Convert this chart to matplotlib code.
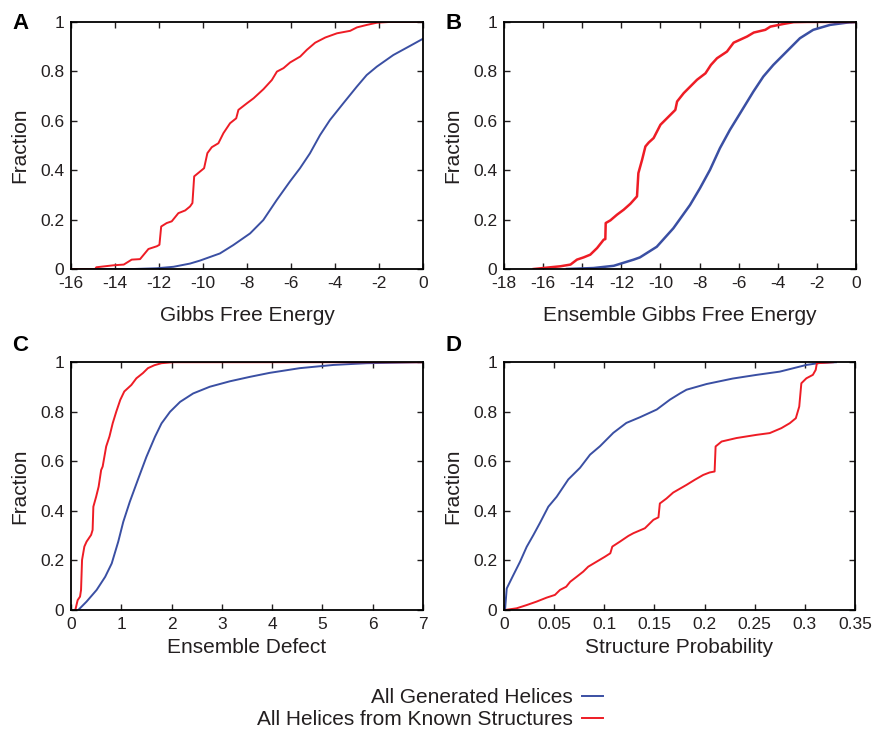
import matplotlib
matplotlib.use("Agg")
import matplotlib.pyplot as plt
from matplotlib.ticker import FixedLocator, FixedFormatter

plt.rcParams["font.family"] = ["Liberation Sans", "DejaVu Sans"]

BLUE = "#3a4fa3"
RED = "#ee1c25"
INK = "#231f20"

#
# Data (cumulative fractions)
#
# Panel A: Gibbs Free Energy
a_red_x = [-16, -14.9, -14.85, -14.07, -13.6, -13.24, -12.86, -12.48, -12.1, -11.98, -11.9, -11.65,
           -11.42, -11.12, -10.81, -10.59, -10.48, -10.4, -9.95, -9.8, -9.6, -9.3, -9.07, -8.77,
           -8.49, -8.39, -8.0, -7.7, -7.25, -6.87, -6.64, -6.34, -6.04, -5.58, -5.28, -4.9, -4.44,
           -3.91, -3.31, -3.0, -2.55, -2.09, -1.49, 0]
a_red_y = [0, 0, 0.007, 0.015, 0.018, 0.038, 0.04, 0.081, 0.092, 0.098, 0.172, 0.186,
           0.193, 0.226, 0.237, 0.253, 0.267, 0.375, 0.408, 0.469, 0.493, 0.509, 0.55, 0.59,
           0.61, 0.644, 0.671, 0.691, 0.728, 0.765, 0.799, 0.813, 0.836, 0.86, 0.887, 0.916, 0.937,
           0.954, 0.964, 0.978, 0.988, 0.997, 1.0, 1.0]
a_blue_x = [-16, -13.16, -12.1, -11.34, -10.59, -10.14, -9.23, -8.62, -7.86, -7.26, -6.65, -6.05,
            -5.59, -5.14, -4.68, -4.23, -3.62, -3.01, -2.56, -2.1, -1.35, -0.59, 0]
a_blue_y = [0, 0, 0.003, 0.009, 0.022, 0.034, 0.063, 0.097, 0.144, 0.198, 0.279, 0.354,
            0.408, 0.468, 0.542, 0.603, 0.671, 0.738, 0.785, 0.819, 0.866, 0.903, 0.932]

# Panel B: Ensemble Gibbs Free Energy
b_red_x = [-16.48, -15.63, -15.12, -14.6, -14.27, -13.93, -13.59, -13.24, -12.9, -12.82, -12.8,
           -12.56, -12.22, -11.88, -11.54, -11.2, -11.13, -10.94, -10.77, -10.6, -10.35, -10.0,
           -9.67, -9.24, -9.15, -8.81, -8.47, -8.13, -7.7, -7.42, -7.11, -6.6, -6.26, -5.57,
           -5.23, -4.64, -4.38, -3.7, -3.19, -2.5, 0]
b_red_y = [0, 0.007, 0.011, 0.018, 0.038, 0.047, 0.058, 0.085, 0.119, 0.121, 0.186,
           0.197, 0.22, 0.24, 0.264, 0.294, 0.388, 0.442, 0.496, 0.512, 0.53, 0.584,
           0.61, 0.644, 0.678, 0.712, 0.739, 0.766, 0.792, 0.826, 0.853, 0.88, 0.916, 0.941,
           0.957, 0.968, 0.981, 0.992, 0.999, 1.0, 1.0]
b_blue_x = [-14.78, -13.42, -12.39, -11.37, -11.05, -10.19, -9.34, -8.49, -7.98, -7.47, -6.96,
            -6.45, -5.93, -5.25, -4.74, -4.23, -3.55, -2.87, -2.19, -1.33, -0.48, 0]
b_blue_y = [0, 0.004, 0.013, 0.038, 0.047, 0.09, 0.165, 0.259, 0.327, 0.401, 0.489,
            0.563, 0.63, 0.718, 0.779, 0.826, 0.88, 0.934, 0.968, 0.988, 0.997, 1.0]

# Panel C: Ensemble Defect
c_red_x = [0.086, 0.133, 0.18, 0.2, 0.22, 0.266, 0.31, 0.4, 0.43, 0.445, 0.5, 0.55, 0.6, 0.63,
           0.7, 0.765, 0.83, 0.9, 0.98, 1.06, 1.2, 1.3, 1.43, 1.53, 1.66, 1.8, 2.03, 7]
c_red_y = [0, 0.04, 0.054, 0.081, 0.202, 0.256, 0.276, 0.303, 0.323, 0.417, 0.457, 0.498, 0.565,
           0.579, 0.66, 0.7, 0.754, 0.8, 0.848, 0.882, 0.908, 0.935, 0.956, 0.976, 0.988, 0.996,
           1.0, 1.0]
c_blue_x = [0.145, 0.31, 0.51, 0.68, 0.81, 0.94, 1.04, 1.17, 1.34, 1.5, 1.67, 1.8, 1.97, 2.17,
            2.43, 2.76, 3.16, 3.56, 3.95, 4.55, 5.22, 5.88, 7]
c_blue_y = [0, 0.034, 0.081, 0.134, 0.188, 0.276, 0.356, 0.437, 0.531, 0.618, 0.699, 0.753,
            0.8, 0.84, 0.874, 0.901, 0.923, 0.941, 0.957, 0.976, 0.989, 0.996, 1.0]

# Panel D: Structure Probability
d_red_x = [0.001, 0.0126, 0.0226, 0.0325, 0.0425, 0.0508, 0.0558, 0.062, 0.066, 0.0724, 0.079,
           0.084, 0.0923, 0.1006, 0.106, 0.108, 0.1156, 0.124, 0.129, 0.1405, 0.149, 0.154,
           0.1554, 0.162, 0.1687, 0.182, 0.19, 0.1986, 0.205, 0.21, 0.211, 0.217, 0.2318, 0.252,
           0.265, 0.2766, 0.285, 0.291, 0.2944, 0.2965, 0.3015, 0.308, 0.3108, 0.312, 0.328]
d_red_y = [0, 0.007, 0.02, 0.034, 0.05, 0.061, 0.081, 0.094, 0.114, 0.134, 0.155,
           0.175, 0.195, 0.215, 0.229, 0.256, 0.276, 0.299, 0.31, 0.33, 0.364, 0.374,
           0.43, 0.45, 0.474, 0.505, 0.525, 0.545, 0.555, 0.559, 0.66, 0.68, 0.694, 0.707,
           0.714, 0.734, 0.754, 0.774, 0.821, 0.915, 0.935, 0.949, 0.969, 0.996, 1.0]
d_blue_x = [0.001, 0.0027, 0.0093, 0.016, 0.0226, 0.0292, 0.0359, 0.0442, 0.0525, 0.0641,
            0.0758, 0.0858, 0.0957, 0.109, 0.122, 0.1356, 0.1523, 0.1655, 0.1755, 0.182, 0.202,
            0.228, 0.252, 0.275, 0.3015, 0.315, 0.331]
d_blue_y = [0, 0.087, 0.141, 0.195, 0.255, 0.302, 0.352, 0.417, 0.457, 0.527,
            0.574, 0.627, 0.661, 0.715, 0.755, 0.778, 0.809, 0.849, 0.874, 0.889, 0.912,
            0.934, 0.949, 0.962, 0.989, 0.997, 1.0]

# ticks
y_ticks = [0, 0.2, 0.4, 0.6, 0.8, 1]
y_labels = ["0", "0.2", "0.4", "0.6", "0.8", "1"]
a_ticks = [-16, -14, -12, -10, -8, -6, -4, -2, 0]
b_ticks = [-18, -16, -14, -12, -10, -8, -6, -4, -2, 0]
c_ticks = [0, 1, 2, 3, 4, 5, 6, 7]
d_ticks = [0, 0.05, 0.1, 0.15, 0.2, 0.25, 0.3, 0.35]
d_labels = ["0", "0.05", "0.1", "0.15", "0.2", "0.25", "0.3", "0.35"]

legend_labels = ["All Generated Helices", "All Helices from Known Structures"]

#
# Plot
#
fig = plt.figure(figsize=(8.72, 7.31), dpi=100)

panels = [
    # letter, letter pos, rect, xlabel, ticks, ticklabels, blue, red, lw, labelpad
    ("A", (0.014, 0.9685), [0.0814, 0.632, 0.4037, 0.338], "Gibbs Free Energy",
     a_ticks, [str(t) for t in a_ticks], (a_blue_x, a_blue_y), (a_red_x, a_red_y), 1.4, 11),
    ("B", (0.511, 0.9685), [0.578, 0.632, 0.4037, 0.338], "Ensemble Gibbs Free Energy",
     b_ticks, [str(t) for t in b_ticks], (b_blue_x, b_blue_y), (b_red_x, b_red_y), 1.8, 11),
    ("C", (0.014, 0.528), [0.0814, 0.1655, 0.4037, 0.339], "Ensemble Defect",
     c_ticks, [str(t) for t in c_ticks], (c_blue_x, c_blue_y), (c_red_x, c_red_y), 1.4, 4),
    ("D", (0.511, 0.528), [0.578, 0.1655, 0.4025, 0.339], "Structure Probability",
     d_ticks, d_labels, (d_blue_x, d_blue_y), (d_red_x, d_red_y), 1.4, 4),
]

handles = None
for letter, lpos, rect, xlabel, ticks, tlabels, blue, red, lw, pad in panels:
    ax = fig.add_axes(rect)
    hb, = ax.plot(blue[0], blue[1], color=BLUE, lw=lw)
    hr, = ax.plot(red[0], red[1], color=RED, lw=lw)
    if handles is None:
        handles = [hb, hr]
    ax.set_xlim(ticks[0], ticks[-1])
    ax.set_ylim(0, 1)
    ax.xaxis.set_major_locator(FixedLocator(ticks))
    ax.xaxis.set_major_formatter(FixedFormatter(tlabels))
    ax.yaxis.set_major_locator(FixedLocator(y_ticks))
    ax.yaxis.set_major_formatter(FixedFormatter(y_labels))
    ax.tick_params(direction="in", length=4, width=1.0, top=True, right=True,
                   labelsize=12.5, colors=INK, pad=5)
    for s in ax.spines.values():
        s.set_linewidth(1.3)
        s.set_color("black")
    ax.set_xlabel(xlabel, fontsize=15, color=INK, labelpad=pad)
    ax.set_ylabel("Fraction", fontsize=15, color=INK, labelpad=8)
    fig.text(lpos[0], lpos[1], letter, fontsize=16, fontweight="bold", color="black",
             ha="left", va="center")

fig.legend(handles, legend_labels, markerfirst=False, frameon=False, fontsize=15,
           loc="upper right", bbox_to_anchor=(0.6915, 0.059), borderpad=0, borderaxespad=0,
           handlelength=1.0, handletextpad=0.45, labelspacing=0.15, labelcolor=INK)

plt.savefig("out.png", dpi=100)
